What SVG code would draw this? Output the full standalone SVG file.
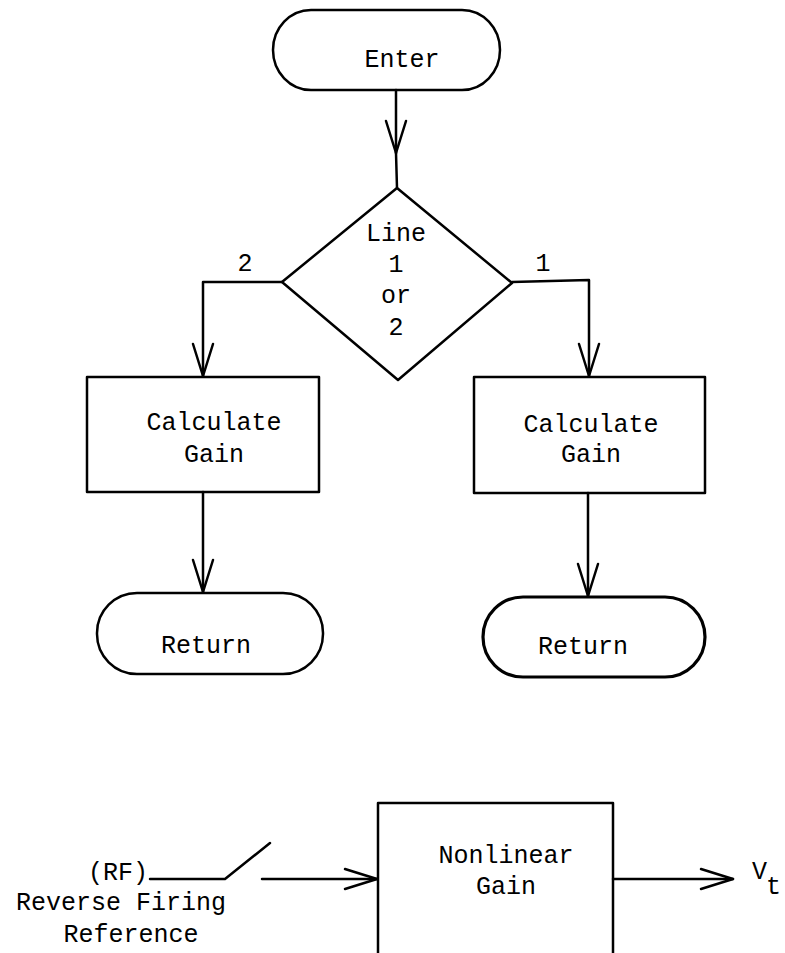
<svg xmlns="http://www.w3.org/2000/svg" width="785" height="953" viewBox="0 0 785 953">
<style>
.s{fill:none;stroke:#000;stroke-width:2.5;stroke-linejoin:round;stroke-linecap:round}
.t{font-family:"Liberation Mono","DejaVu Sans Mono",monospace;font-size:25px;fill:#000}
.m{text-anchor:middle}
</style>
<defs>
<marker id="arr" viewBox="-40 -16 46 32" refX="0" refY="0" markerWidth="46" markerHeight="32" markerUnits="userSpaceOnUse" orient="auto">
<path d="M-32,-10 L0,0 L-32,10" fill="none" stroke="#000" stroke-width="2.5" stroke-linejoin="round" stroke-linecap="round"/>
</marker>
</defs>
<rect width="785" height="953" fill="#fff"/>
<g id="connectors">
<path class="s" d="M396,90 L396,153" marker-end="url(#arr)"/>
<path class="s" d="M396,153 L397,188"/>
<path class="s" d="M282,282 L203,282 L203,376" marker-end="url(#arr)"/>
<path class="s" d="M512,282 L589,280 L589,376" marker-end="url(#arr)"/>
<path class="s" d="M203,492 L203,592" marker-end="url(#arr)"/>
<path class="s" d="M588,493 L588,596" marker-end="url(#arr)"/>
<path class="s" d="M150,879 L225,879 L270,843"/>
<path class="s" d="M262,879 L377,879" marker-end="url(#arr)"/>
<path class="s" d="M613,879 L733,879" marker-end="url(#arr)"/>
</g>
<g id="enter">
<rect class="s" x="273" y="10" width="227" height="80" rx="38" ry="40"/>
<text class="t m" x="402" y="67">Enter</text>
</g>
<g id="decision">
<path class="s" d="M397,188 L512,283 L398,380 L282,282 Z"/>
<text class="t m" x="396" y="241">Line</text>
<text class="t m" x="396" y="272">1</text>
<text class="t m" x="396" y="303">or</text>
<text class="t m" x="396" y="335">2</text>
</g>
<g id="label2"><text class="t m" x="245" y="271">2</text></g>
<g id="label1"><text class="t m" x="543" y="271">1</text></g>
<g id="calc-left">
<rect class="s" x="87" y="377" width="232" height="115"/>
<text class="t m" x="214" y="430">Calculate</text>
<text class="t m" x="214" y="462">Gain</text>
</g>
<g id="calc-right">
<rect class="s" x="474" y="377" width="231" height="116"/>
<text class="t m" x="591" y="432">Calculate</text>
<text class="t m" x="591" y="462">Gain</text>
</g>
<g id="return-left">
<rect class="s" x="97" y="593" width="226" height="81" rx="40" ry="40"/>
<text class="t m" x="206" y="653">Return</text>
</g>
<g id="return-right">
<rect class="s" style="stroke-width:3.2" x="483" y="597" width="222" height="80" rx="40" ry="40"/>
<text class="t m" x="583" y="654">Return</text>
</g>
<g id="rf-input">
<text class="t" x="148" y="880" text-anchor="end">(RF)</text>
<text class="t m" x="121" y="910">Reverse Firing</text>
<text class="t m" x="131" y="942">Reference</text>
</g>
<g id="nonlinear-gain">
<path class="s" d="M378,960 L378,803 L613,803 L613,960"/>
<text class="t m" x="506" y="863">Nonlinear</text>
<text class="t m" x="506" y="894">Gain</text>
</g>
<g id="vt-output">
<text class="t" x="752" y="879">V<tspan x="766" y="894">t</tspan></text>
</g>
</svg>
